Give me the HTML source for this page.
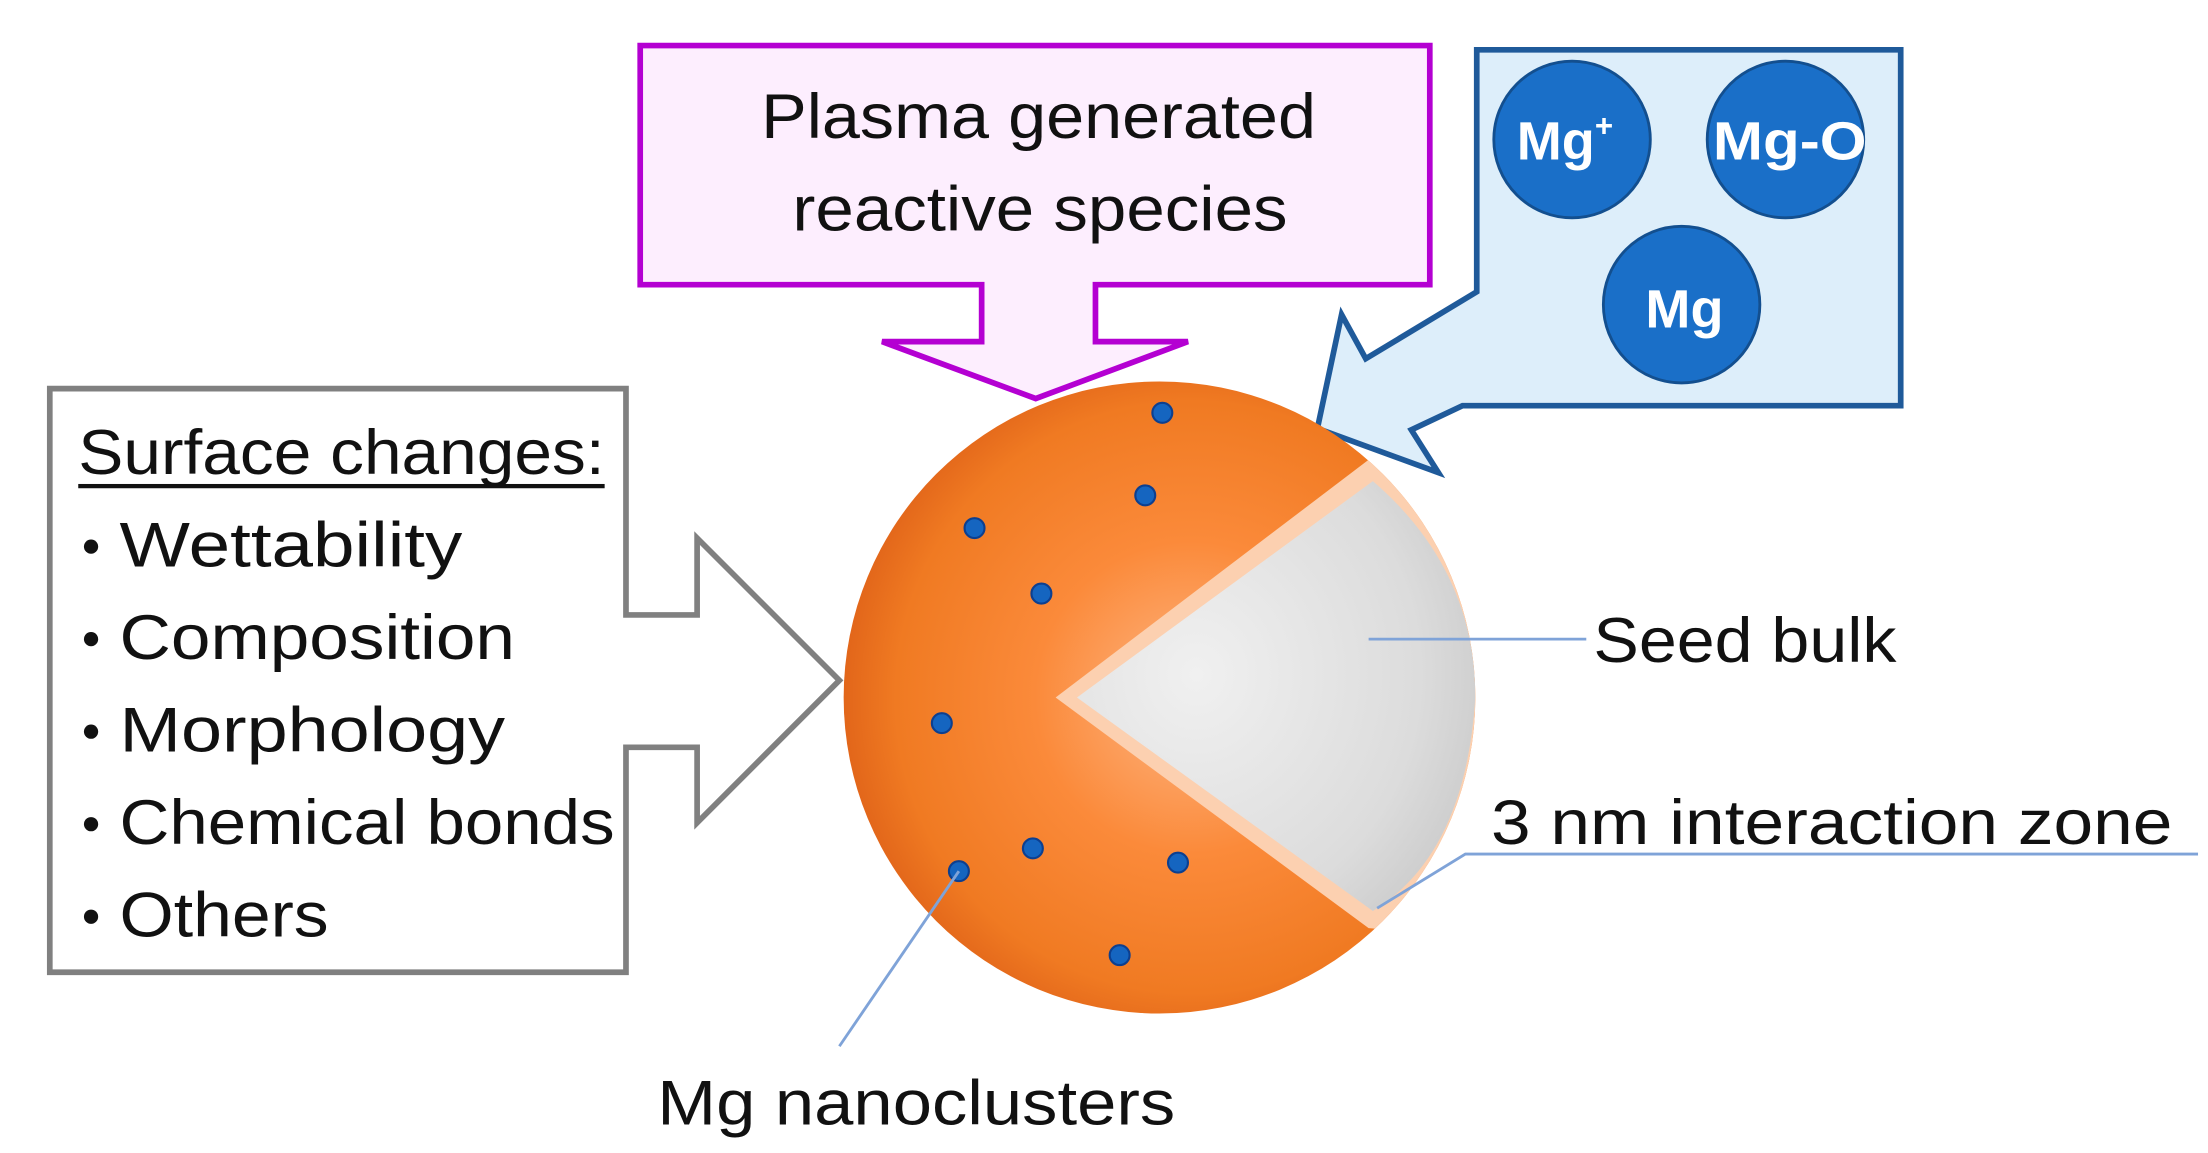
<!DOCTYPE html>
<html><head><meta charset="utf-8"><style>html,body{margin:0;padding:0;background:#fff}svg{display:block}</style></head>
<body>
<svg width="2208" height="1153" viewBox="0 0 1552 810" preserveAspectRatio="none" xmlns="http://www.w3.org/2000/svg" font-family="Liberation Sans, sans-serif">
<defs>
<radialGradient id="og" cx="0.55" cy="0.5" r="0.55">
<stop offset="0" stop-color="#fdb684"/>
<stop offset="0.45" stop-color="#fb8a3a"/>
<stop offset="0.85" stop-color="#f07a22"/>
<stop offset="1" stop-color="#e2661a"/>
</radialGradient>
<radialGradient id="gg" cx="0.3" cy="0.45" r="0.8">
<stop offset="0" stop-color="#f0f0f0"/>
<stop offset="0.7" stop-color="#dcdcdc"/>
<stop offset="1" stop-color="#c8c8c8"/>
</radialGradient>
<clipPath id="sc"><circle cx="815" cy="490" r="222"/></clipPath>
</defs>
<rect width="1552" height="810" fill="#fff"/>
<!-- purple callout -->
<path d="M450,32 H1005 V200 H770 V240 H835 L728,280 L620,240 H690 V200 H450 Z" fill="#fdeefe" stroke="#b400d2" stroke-width="4"/>
<text x="730" y="97" font-size="44" text-anchor="middle" textLength="390" lengthAdjust="spacingAndGlyphs" fill="#111">Plasma generated</text>
<text x="731" y="162" font-size="44" text-anchor="middle" textLength="348" lengthAdjust="spacingAndGlyphs" fill="#111">reactive species</text>
<!-- blue callout -->
<path d="M1038,35 H1336 V285 H1028 L992,302 L1011,332 L926,301 L943,221 L960,252 L1038,205 Z" fill="#ddeefa" stroke="#1f5a9a" stroke-width="4" stroke-linejoin="miter"/>
<circle cx="1105" cy="98" r="55" fill="#1a6fc8" stroke="#134f8f" stroke-width="2"/>
<circle cx="1255" cy="98" r="55" fill="#1a6fc8" stroke="#134f8f" stroke-width="2"/>
<circle cx="1182" cy="214" r="55" fill="#1a6fc8" stroke="#134f8f" stroke-width="2"/>
<text x="1100" y="112" font-size="38" font-weight="bold" fill="#fff" text-anchor="middle">Mg<tspan font-size="22" dy="-16">+</tspan></text>
<text x="1258" y="112" font-size="38" font-weight="bold" fill="#fff" text-anchor="middle" textLength="108" lengthAdjust="spacingAndGlyphs">Mg-O</text>
<text x="1184" y="230" font-size="38" font-weight="bold" fill="#fff" text-anchor="middle">Mg</text>
<!-- left callout -->
<path d="M35,273 H440 V432 H490 V378 L590,478 L490,578 V525 H440 V683 H35 Z" fill="#fff" stroke="#808080" stroke-width="4"/>
<text x="55" y="333" font-size="44" textLength="370" lengthAdjust="spacingAndGlyphs" fill="#111">Surface changes:</text>
<rect x="55" y="340" width="370" height="3" fill="#111"/>
<g font-size="44" fill="#111">
<circle cx="64" cy="384" r="5"/><text x="84" y="398" textLength="241" lengthAdjust="spacingAndGlyphs">Wettability</text>
<circle cx="64" cy="449" r="5"/><text x="84" y="463" textLength="278" lengthAdjust="spacingAndGlyphs">Composition</text>
<circle cx="64" cy="514" r="5"/><text x="84" y="528" textLength="271" lengthAdjust="spacingAndGlyphs">Morphology</text>
<circle cx="64" cy="579" r="5"/><text x="84" y="593" textLength="348" lengthAdjust="spacingAndGlyphs">Chemical bonds</text>
<circle cx="64" cy="644" r="5"/><text x="84" y="658" textLength="147" lengthAdjust="spacingAndGlyphs">Others</text>
</g>
<!-- sphere -->
<circle cx="815" cy="490" r="222" fill="url(#og)"/>
<g clip-path="url(#sc)">
<path d="M742,490 L962,323 L1060,323 L1060,660 L962,652 Z" fill="#fcd0b0"/>
<path d="M757,490 L965,338 Q1037,400 1037,490 Q1030,600 965,640 Z" fill="url(#gg)"/>
</g>
<g fill="#1565c0" stroke="#0d3f8f" stroke-width="1.5">
<circle cx="817" cy="290" r="7"/><circle cx="805" cy="348" r="7"/><circle cx="685" cy="371" r="7"/>
<circle cx="732" cy="417" r="7"/><circle cx="662" cy="508" r="7"/><circle cx="726" cy="596" r="7"/>
<circle cx="674" cy="612" r="7"/><circle cx="828" cy="606" r="7"/><circle cx="787" cy="671" r="7"/>
</g>
<!-- leader lines -->
<g stroke="#7fa3d8" stroke-width="2" fill="none">
<line x1="962" y1="449" x2="1115" y2="449"/>
<polyline points="968,638 1030,600 1545,600"/>
<line x1="674" y1="612" x2="590" y2="735"/>
</g>
<g font-size="44" fill="#111">
<text x="1120" y="465" textLength="213" lengthAdjust="spacingAndGlyphs">Seed bulk</text>
<text x="1048" y="593" textLength="479" lengthAdjust="spacingAndGlyphs">3 nm interaction zone</text>
<text x="462" y="790" textLength="364" lengthAdjust="spacingAndGlyphs">Mg nanoclusters</text>
</g>
</svg>
</body></html>
